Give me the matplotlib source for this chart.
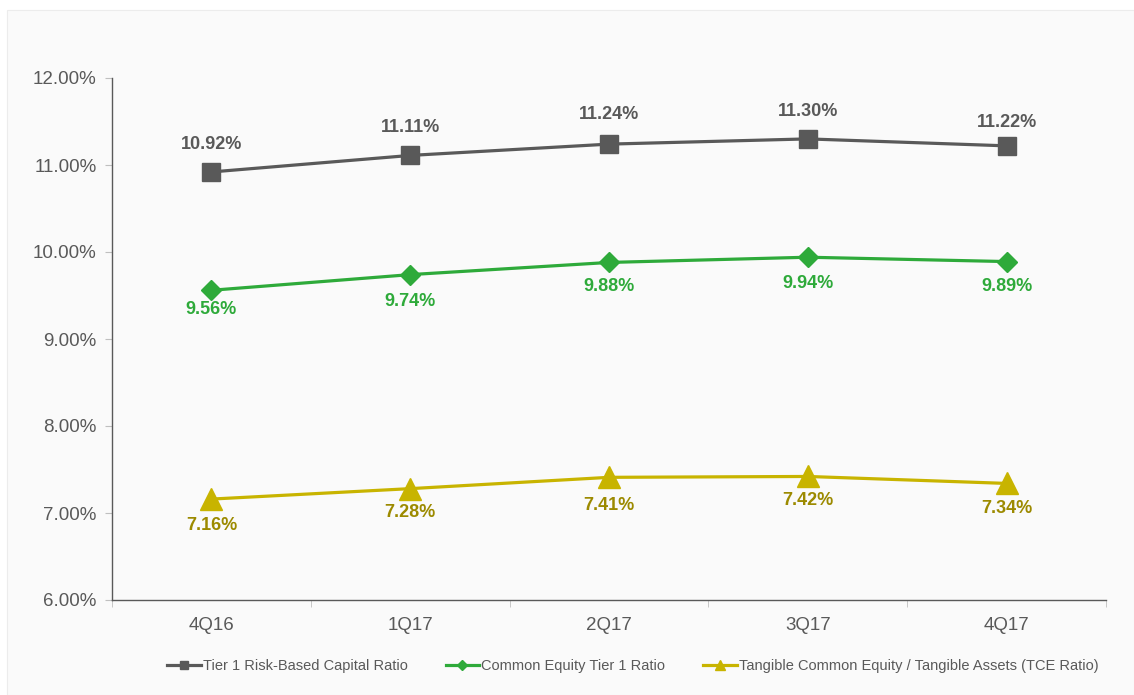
import matplotlib
matplotlib.use("Agg")
import matplotlib.pyplot as plt
from matplotlib.patches import Rectangle
from matplotlib.ticker import FuncFormatter, MultipleLocator

plt.rcParams['font.family'] = ['Liberation Sans', 'DejaVu Sans']

quarters = ['4Q16', '1Q17', '2Q17', '3Q17', '4Q17']
tier1 = [10.92, 11.11, 11.24, 11.30, 11.22]
cet1 = [9.56, 9.74, 9.88, 9.94, 9.89]
tce = [7.16, 7.28, 7.41, 7.42, 7.34]

gray = '#595959'
green = '#2eaa3a'
gold = '#c8b400'
gold_txt = '#9c8a00'

# label offsets (points), as placed in the original
tier1_off = [20, 20, 21, 20, 17]
cet1_off = [-14, -19, -17, -19, -18]
tce_off = [-19, -17, -20, -17, -18]

fig = plt.figure(figsize=(11.34, 6.95), dpi=100, facecolor='white')
# light panel behind the chart
fig.patches.append(Rectangle((7 / 1134, 0), 1 - 7 / 1134, 1 - 10 / 695,
                             transform=fig.transFigure, facecolor='#fafafa',
                             edgecolor='#ececec', linewidth=0.8, zorder=-1))

ax = fig.add_axes([112 / 1134, 1 - 600 / 695, (1106 - 112) / 1134, (600 - 78) / 695])
ax.set_facecolor('none')

x = range(len(quarters))
ax.plot(x, tier1, color=gray, lw=2.3, marker='s', ms=13, label='Tier 1 Risk-Based Capital Ratio')
ax.plot(x, cet1, color=green, lw=2.3, marker='D', ms=10.5, label='Common Equity Tier 1 Ratio')
ax.plot(x, tce, color=gold, lw=2.3, marker='^', ms=16,
        label='Tangible Common Equity / Tangible Assets (TCE Ratio)')

for i in x:
    ax.annotate(f'{tier1[i]:.2f}%', (i, tier1[i]), xytext=(0, tier1_off[i]), textcoords='offset points',
                ha='center', va='center', fontsize=13, fontweight='bold', color=gray)
    ax.annotate(f'{cet1[i]:.2f}%', (i, cet1[i]), xytext=(0, cet1_off[i]), textcoords='offset points',
                ha='center', va='center', fontsize=13, fontweight='bold', color=green)
    ax.annotate(f'{tce[i]:.2f}%', (i, tce[i]), xytext=(0, tce_off[i]), textcoords='offset points',
                ha='center', va='center', fontsize=13, fontweight='bold', color=gold_txt)

ax.set_xlim(-0.5, 4.5)
ax.set_ylim(6, 12)
ax.yaxis.set_major_locator(MultipleLocator(1))
ax.yaxis.set_major_formatter(FuncFormatter(lambda v, p: f'{v:.2f}%'))
ax.set_xticks(list(x))
ax.set_xticklabels(quarters)
ax.set_xticks([-0.5, 0.5, 1.5, 2.5, 3.5, 4.5], minor=True)
ax.tick_params(axis='x', which='major', length=0, pad=12, labelsize=13.5, labelcolor=gray)
ax.tick_params(axis='x', which='minor', length=5, color='#bfbfbf', direction='out')
ax.tick_params(axis='y', length=5, color='#bfbfbf', labelsize=13.5, labelcolor=gray, pad=6)

for s in ['top', 'right']:
    ax.spines[s].set_visible(False)
for s in ['left', 'bottom']:
    ax.spines[s].set_color(gray)
    ax.spines[s].set_linewidth(1)

leg = fig.legend(loc='center', bbox_to_anchor=(0.558, 1 - 666 / 695), ncol=3, frameon=False,
                 fontsize=10.5, handlelength=2.3, handletextpad=0.15, columnspacing=2.6,
                 markerscale=0.45, labelcolor=gray)

fig.savefig('out.png', dpi=100, facecolor=fig.get_facecolor())
